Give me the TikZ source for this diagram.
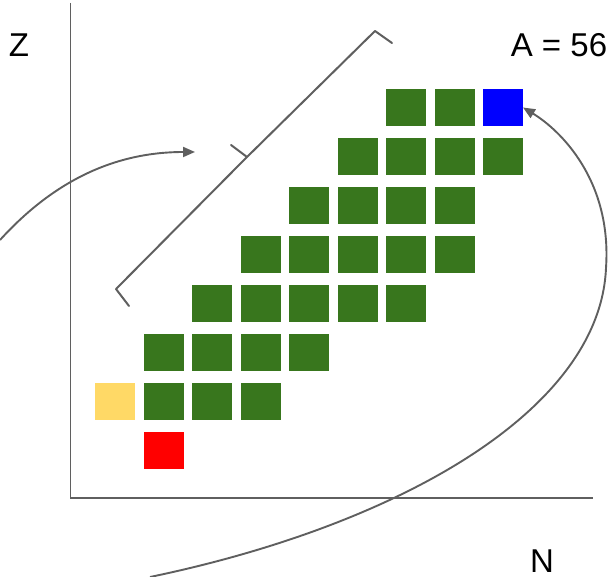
\documentclass[tikz,border=0pt]{standalone}
\usepackage{fontspec}
\setmainfont{Liberation Sans}
\usetikzlibrary{arrows.meta}
\definecolor{cgreen}{HTML}{38761D}
\definecolor{cyellow}{HTML}{FFD966}
\definecolor{cred}{HTML}{FF0000}
\definecolor{cblue}{HTML}{0000FF}
\definecolor{cline}{HTML}{5F5F5F}
\begin{document}
\begin{tikzpicture}[x=1pt,y=-1pt,
  cell/.style={minimum width=40pt,minimum height=37pt,inner sep=0pt,outer sep=0pt,draw=none},
  gcell/.style={cell,fill=cgreen},
  axisline/.style={draw=cline,line width=1.8pt},
  thinline/.style={draw=cline,line width=2pt},
  arrowline/.style={draw=cline,line width=1.9pt,-{Triangle[length=12pt,width=10pt]}},
  lbl/.style={font=\fontsize{33}{36}\selectfont,inner sep=0pt,anchor=base}]
\useasboundingbox (0,0) rectangle (616,577);
% axes
\coordinate (ytop) at (70.5,3);
\coordinate (orig) at (70.5,498);
\coordinate (xend) at (593,498);
\draw[axisline] (ytop) -- (orig) -- (xend);
% cells
\foreach \r/\cols in {0/{6,7},1/{5,6,7,8},2/{4,5,6,7},3/{3,4,5,6,7},4/{2,3,4,5,6},5/{1,2,3,4},6/{1,2,3}}{
  \foreach \c in \cols {
    \node[gcell] (g\r\c) at ({115+48.5*\c},{107.5+49*\r}) {};
  }
}
\node[cell,fill=cblue] (blue) at ({115+48.5*8},107.5) {};
\node[cell,fill=cyellow] (yellow) at (115,{107.5+49*6}) {};
\node[cell,fill=cred] (red) at ({115+48.5},{107.5+49*7}) {};
% labels
\node[lbl] (zl) at (19,57) {Z};
\node[lbl] (al) at (559,57) {A = 56};
\node[lbl] (nl) at (542,572) {N};
% bracket
\coordinate (b1) at (392,43);
\coordinate (b2) at (375,31);
\coordinate (bm) at (247,157);
\coordinate (bt) at (231,145);
\coordinate (bm2) at (243,161);
\coordinate (b3) at (116,289);
\coordinate (b4) at (129,306);
\draw[thinline,line join=round,line cap=round] (b1) -- (b2) -- (bm) -- (bt);
\draw[thinline,line join=round,line cap=round] (bm) -- (bm2) -- (b3) -- (b4);
% arrows
\coordinate (s1) at (0,240);
\coordinate (t1) at (195,152);
\draw[arrowline] (s1) .. controls (50,185) and (110,152) .. (t1);
\coordinate (s2) at (150,577);
\coordinate (m2) at (606,268);
\draw[arrowline] (s2) .. controls (400,525) and (600,410) .. (m2) .. controls (612,180) and (560,130) .. (blue.east);
\end{tikzpicture}
\end{document}
